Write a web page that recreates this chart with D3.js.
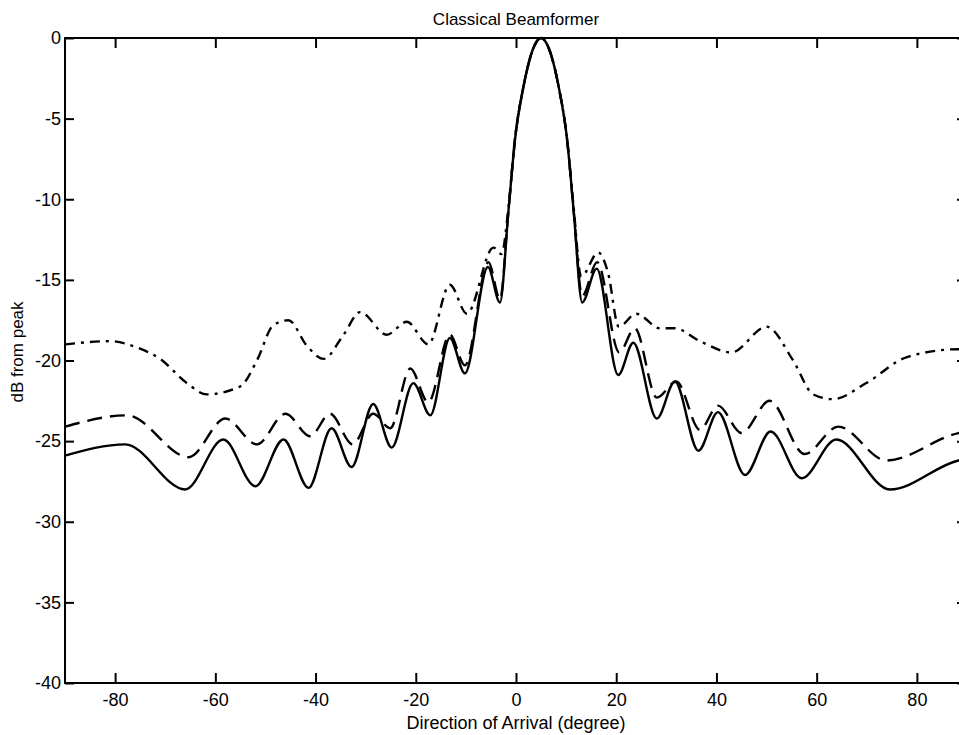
<!DOCTYPE html>
<html>
<head>
<meta charset="utf-8">
<script src="https://cdn.jsdelivr.net/npm/d3@7"></script>
<style>
  body { margin: 0; background: #fff; }
  svg { display: block; }
  .tick text { font-family: "Liberation Sans", Arial, sans-serif; font-size: 18px; fill: #000; }
  .tick line { stroke: #000; stroke-width: 2; }
</style>
</head>
<body>
<div id="chart"></div>
<script>
// values (angle in degrees, level in dB from peak)
const solidAngles = [-90, -78, -66, -58.4, -52, -46.4, -41.4, -36.8, -32.8, -28.5, -24.8, -20.5, -17.1, -13.2, -10.2, -5.6, -3.2, -1.5, -0.2, 1.5, 3.5, 5, 6.5, 8.5, 10.2, 11.5, 13.2, 16.1, 20.4, 23.4, 28.1, 31.7, 36.4, 40.3, 45.7, 50.8, 57, 63.9, 74.6, 88.3, 90];
const solidDb = [-25.9, -25.2, -28.0, -24.9, -27.8, -24.9, -27.9, -24.2, -26.6, -22.7, -25.4, -21.4, -23.4, -18.6, -20.8, -14.2, -16.4, -10.7, -6.3, -3.0, -0.6, 0, -0.6, -3.0, -6.3, -10.7, -16.4, -14.3, -20.9, -18.9, -23.6, -21.3, -25.6, -23.2, -27.1, -24.4, -27.3, -24.9, -28.0, -26.2, -26.1];

const dashedAngles = [-90, -77.6, -65.3, -58, -51.7, -46, -41.1, -37.1, -32.6, -28.5, -25.1, -21.1, -17.5, -13.2, -10.2, -5.5, -3.2, -1.5, -0.2, 1.5, 3.5, 5, 6.5, 8.5, 10.2, 11.5, 13.2, 16.2, 20.6, 23.7, 28.1, 32, 36.7, 40.3, 45, 50.6, 57.6, 64.3, 73.9, 88.3, 90];
const dashedDb = [-24.1, -23.4, -26.0, -23.6, -25.2, -23.3, -24.7, -23.3, -25.2, -23.3, -24.2, -20.5, -22.6, -18.4, -20.3, -13.9, -16.2, -10.7, -6.3, -3.0, -0.6, 0, -0.6, -3.0, -6.3, -10.7, -16.0, -13.9, -19.5, -18.0, -22.3, -21.3, -24.3, -22.8, -24.5, -22.5, -25.8, -24.1, -26.2, -24.5, -24.4];

const dashDotAngles = [-90, -81, -75.6, -71, -65.7, -61.7, -55, -51.7, -48.4, -45.4, -41.7, -38.4, -34.4, -31.1, -25.8, -21.8, -17.5, -13.2, -9.8, -4.5, -2.9, -1.5, -0.2, 1.5, 3.5, 5, 6.5, 8.5, 10.2, 11.5, 13.0, 16.4, 18.4, 20.5, 24, 28.7, 31.7, 36.7, 43, 50, 55.3, 59.3, 63.3, 69.9, 77.9, 88.3, 90];
const dashDotDb = [-19.0, -18.8, -19.2, -19.9, -21.4, -22.1, -21.6, -20.0, -17.8, -17.5, -19.1, -19.9, -18.4, -17.0, -18.4, -17.6, -19.0, -15.3, -17.1, -13.0, -13.4, -10.5, -6.2, -3.0, -0.6, 0, -0.6, -3.0, -6.3, -10.5, -14.8, -13.3, -14.6, -17.9, -17.1, -18.0, -18.0, -18.8, -19.5, -17.9, -20.0, -22.1, -22.4, -21.4, -19.8, -19.3, -19.3];

const xTicks = [-80, -60, -40, -20, 0, 20, 40, 60, 80];
const yTicks = [0, -5, -10, -15, -20, -25, -30, -35, -40];

const width = 959;
const height = 735;
const plotLeft = 65, plotRight = 967, plotTop = 38, plotBottom = 683;

const svg = d3.select("#chart").append("svg")
  .attr("width", width)
  .attr("height", height);

const x = d3.scaleLinear().domain([-90, 90]).range([plotLeft, plotRight]);
const y = d3.scaleLinear().domain([-40, 0]).range([plotBottom, plotTop]);

// plain hyphen for negatives, as in the original
const fmt = d => String(d);

// axes, ticks point inward
svg.append("g")
  .attr("transform", `translate(0,${plotBottom})`)
  .call(d3.axisBottom(x).tickValues(xTicks).tickFormat(fmt).tickSizeInner(-10).tickSizeOuter(0).tickPadding(10))
  .call(g => g.select(".domain").remove());

svg.append("g")
  .attr("transform", `translate(0,${plotTop})`)
  .call(d3.axisTop(x).tickValues(xTicks).tickSizeInner(-10).tickSizeOuter(0).tickFormat(""))
  .call(g => g.select(".domain").remove());

svg.append("g")
  .attr("transform", `translate(${plotLeft},0)`)
  .call(d3.axisLeft(y).tickValues(yTicks).tickFormat(fmt).tickSizeInner(-9).tickSizeOuter(0).tickPadding(4))
  .call(g => g.select(".domain").remove());

svg.append("g")
  .attr("transform", `translate(${plotRight},0)`)
  .call(d3.axisRight(y).tickValues(yTicks).tickSizeInner(-10).tickSizeOuter(0).tickFormat(""))
  .call(g => g.select(".domain").remove());

svg.append("rect")
  .attr("x", plotLeft)
  .attr("y", plotTop)
  .attr("width", plotRight - plotLeft)
  .attr("height", plotBottom - plotTop)
  .attr("fill", "none")
  .attr("stroke", "#000")
  .attr("stroke-width", 2);

const line = d3.line()
  .x(d => x(d[0]))
  .y(d => y(d[1]))
  .curve(d3.curveMonotoneX);

const series = [
  { angles: dashDotAngles, db: dashDotDb, dash: "10,6,3,6" },
  { angles: dashedAngles, db: dashedDb, dash: "15,8" },
  { angles: solidAngles, db: solidDb, dash: null },
];

series.forEach(s => {
  svg.append("path")
    .datum(s.angles.map((a, i) => [a, s.db[i]]))
    .attr("d", line)
    .attr("fill", "none")
    .attr("stroke", "#000")
    .attr("stroke-width", 2.4)
    .attr("stroke-dasharray", s.dash);
});

// labels
svg.append("text")
  .attr("x", (plotLeft + plotRight) / 2)
  .attr("y", 25)
  .attr("text-anchor", "middle")
  .style("font-family", "Liberation Sans, Arial, sans-serif")
  .style("font-size", "17px")
  .text("Classical Beamformer");

svg.append("text")
  .attr("x", (plotLeft + plotRight) / 2)
  .attr("y", 729)
  .attr("text-anchor", "middle")
  .style("font-family", "Liberation Sans, Arial, sans-serif")
  .style("font-size", "18px")
  .text("Direction of Arrival (degree)");

svg.append("text")
  .attr("transform", `translate(23,352) rotate(-90)`)
  .attr("text-anchor", "middle")
  .style("font-family", "Liberation Sans, Arial, sans-serif")
  .style("font-size", "17px")
  .text("dB from peak");
</script>
</body>
</html>
